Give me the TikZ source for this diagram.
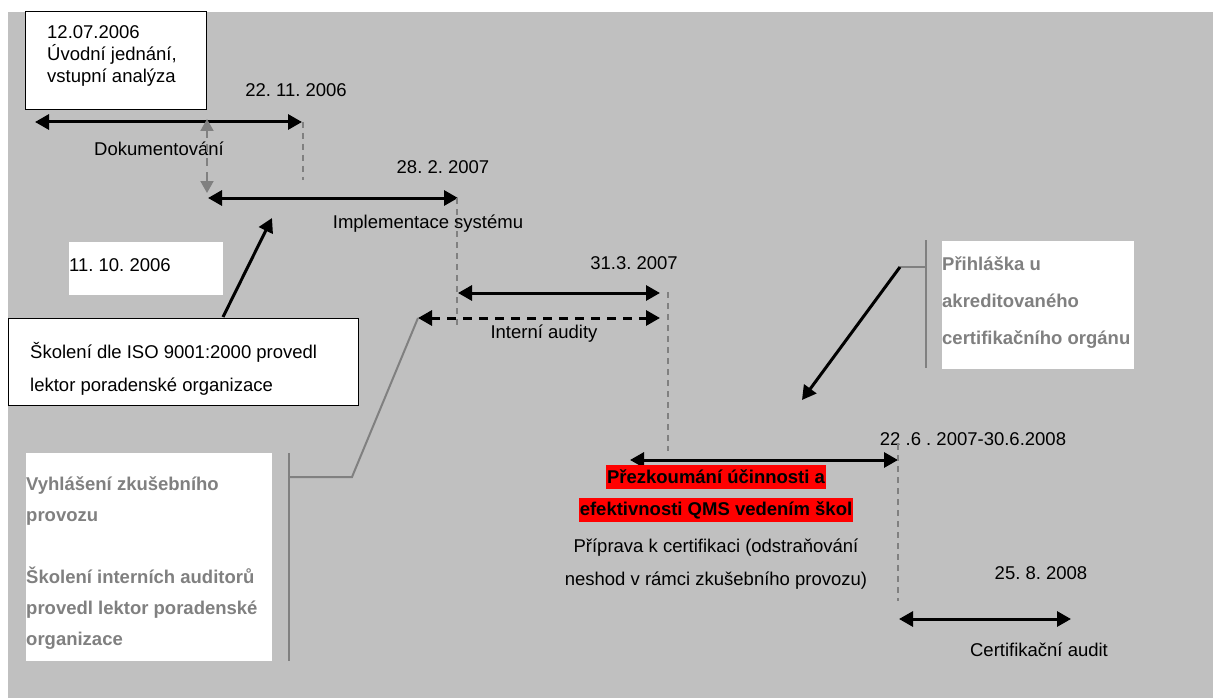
\documentclass[tikz,border=0pt]{standalone}
\usepackage{fontspec}
\setmainfont{Liberation Sans}
\usetikzlibrary{arrows.meta}
\definecolor{bg}{HTML}{C0C0C0}
\definecolor{mid}{HTML}{808080}
\definecolor{hl}{HTML}{FF0000}
\begin{document}
\begin{tikzpicture}[x=1pt,y=-1pt,
  every node/.style={font=\frenchspacing\fontsize{18.5}{22}\selectfont, inner sep=0pt},
  tip/.tip={Triangle[length=14pt,width=15pt]},
  span/.style={line width=3pt, tip-tip},
  pointer/.style={line width=3pt, -tip},
  guide/.style={mid, line width=1.5pt, dash pattern=on 6pt off 5pt},
  lead/.style={mid, line width=2pt},
  note/.style={fill=white, draw=black, line width=1pt},
  plain/.style={fill=white},
  greytext/.style={font=\frenchspacing\bfseries\fontsize{18.5}{31}\selectfont, text=mid, align=left},
  redmark/.style={fill=hl, font=\frenchspacing\bfseries\fontsize{18.5}{22}\selectfont, inner xsep=1pt, minimum height=24pt},
]
\useasboundingbox (0,0) rectangle (1213,698);
\fill[white] (0,0) rectangle (1213,698);
\fill[bg] (8,12) rectangle (1213,698);

% --- start of the project
\node[note, anchor=north west, minimum width=181pt, minimum height=98pt] (start) at (25,11) {};
\node[anchor=west, align=left] (starttext) at (47,56) {12.07.2006\\Úvodní jednání,\\vstupní analýza};

% --- documentation phase
\coordinate (doc1) at (35,122);
\coordinate (doc2) at (302,122);
\draw[span] (doc1) -- (doc2);
\coordinate (docg1) at (303,122);
\coordinate (docg2) at (303,180);
\draw[guide] (docg1) -- (docg2);
\node (docdate) at (296,90) {22. 11. 2006};
\node (doclabel) at (159,149) {Dokumentování};

% overlap of documentation and implementation
\coordinate (ov1) at (207,119);
\coordinate (ov2) at (207,193);
\draw[mid, line width=2pt, dash pattern=on 8pt off 6pt, {Triangle[length=12pt,width=13pt]}-{Triangle[length=12pt,width=13pt]}] (ov1) -- (ov2);

% --- implementation phase
\coordinate (imp1) at (208,198);
\coordinate (imp2) at (458,198);
\draw[span] (imp1) -- (imp2);
\coordinate (impg1) at (457,198);
\coordinate (impg2) at (457,325);
\draw[guide] (impg1) -- (impg2);
\node (impdate) at (443,167) {28. 2. 2007};
\node (implabel) at (428,224) {Implementace systému};

% --- training
\node[plain, anchor=north west, minimum width=154pt, minimum height=53pt] (trdatebox) at (69,242) {};
\node[anchor=west] (trdate) at (69,265) {11. 10. 2006};
\node[note, anchor=north west, minimum width=350pt, minimum height=87pt] (train) at (8,318) {};
\node[anchor=west, align=left, font=\frenchspacing\fontsize{18.5}{33}\selectfont] (traintext) at (30,368.5) {Školení dle ISO 9001:2000 provedl\\lektor poradenské organizace};
\coordinate (trp1) at (223,317);
\coordinate (trp2) at (272,218);
\draw[pointer] (trp1) -- (trp2);

% --- internal audits
\coordinate (aud1) at (458,293);
\coordinate (aud2) at (660,293);
\draw[span] (aud1) -- (aud2);
\coordinate (ext1) at (418,318);
\coordinate (ext2) at (660,318);
\draw[span, dash pattern=on 9pt off 7pt] (ext1) -- (ext2);
\node (auddate) at (634,263) {31.3. 2007};
\node (audlabel) at (544,334) {Interní audity};
\coordinate (audg1) at (668,292);
\coordinate (audg2) at (668,451);
\draw[guide] (audg1) -- (audg2);

% --- trial operation note
\node[plain, anchor=north west, minimum width=246pt, minimum height=208pt] (trialbox) at (26,453) {};
\node[greytext, anchor=west] (trialtext) at (26,563.5) {Vyhlášení zkušebního\\provozu\\[31pt]Školení interních auditorů\\provedl lektor poradenské\\organizace};
\coordinate (trb1) at (289,453);
\coordinate (trb2) at (289,661);
\draw[lead] (trb1) -- (trb2);
\coordinate (trk1) at (289,477);
\coordinate (trk2) at (352,477);
\draw[lead] (trk1) -- (trk2) -- (ext1);

% --- application to certification body
\node[plain, anchor=north west, minimum width=192pt, minimum height=128pt] (appbox) at (942,241) {};
\node[greytext, anchor=west, font=\frenchspacing\bfseries\fontsize{18.5}{37}\selectfont] (apptext) at (942,303) {Přihláška u\\akreditovaného\\certifikačního orgánu};
\coordinate (apb1) at (926,240);
\coordinate (apb2) at (926,368);
\draw[lead] (apb1) -- (apb2);
\coordinate (apk) at (926,267);
\coordinate (app1) at (900,267);
\coordinate (app2) at (802,400);
\draw[lead] (apk) -- (app1);
\draw[pointer] (app1) -- (app2);

% --- review phase
\coordinate (rev1) at (630,460);
\coordinate (rev2) at (898,460);
\draw[span] (rev1) -- (rev2);
\node (revdate) at (973,439) {22 .6 . 2007-30.6.2008};
\node[redmark] (revhl1) at (716,477) {Přezkoumání účinnosti a};
\node[redmark] (revhl2) at (716,510) {efektivnosti QMS vedením škol};
\node[align=center, font=\frenchspacing\fontsize{18.5}{33}\selectfont] (revtext) at (716,564) {Příprava k certifikaci (odstraňování\\neshod v rámci zkušebního provozu)};
\coordinate (revg1) at (898,444);
\coordinate (revg2) at (898,601);
\draw[guide] (revg1) -- (revg2);

% --- certification audit
\coordinate (cer1) at (899,619);
\coordinate (cer2) at (1071,619);
\draw[span] (cer1) -- (cer2);
\node (cerdate) at (1041,573) {25. 8. 2008};
\node (cerlabel) at (1039,650) {Certifikační audit};
\end{tikzpicture}
\end{document}
